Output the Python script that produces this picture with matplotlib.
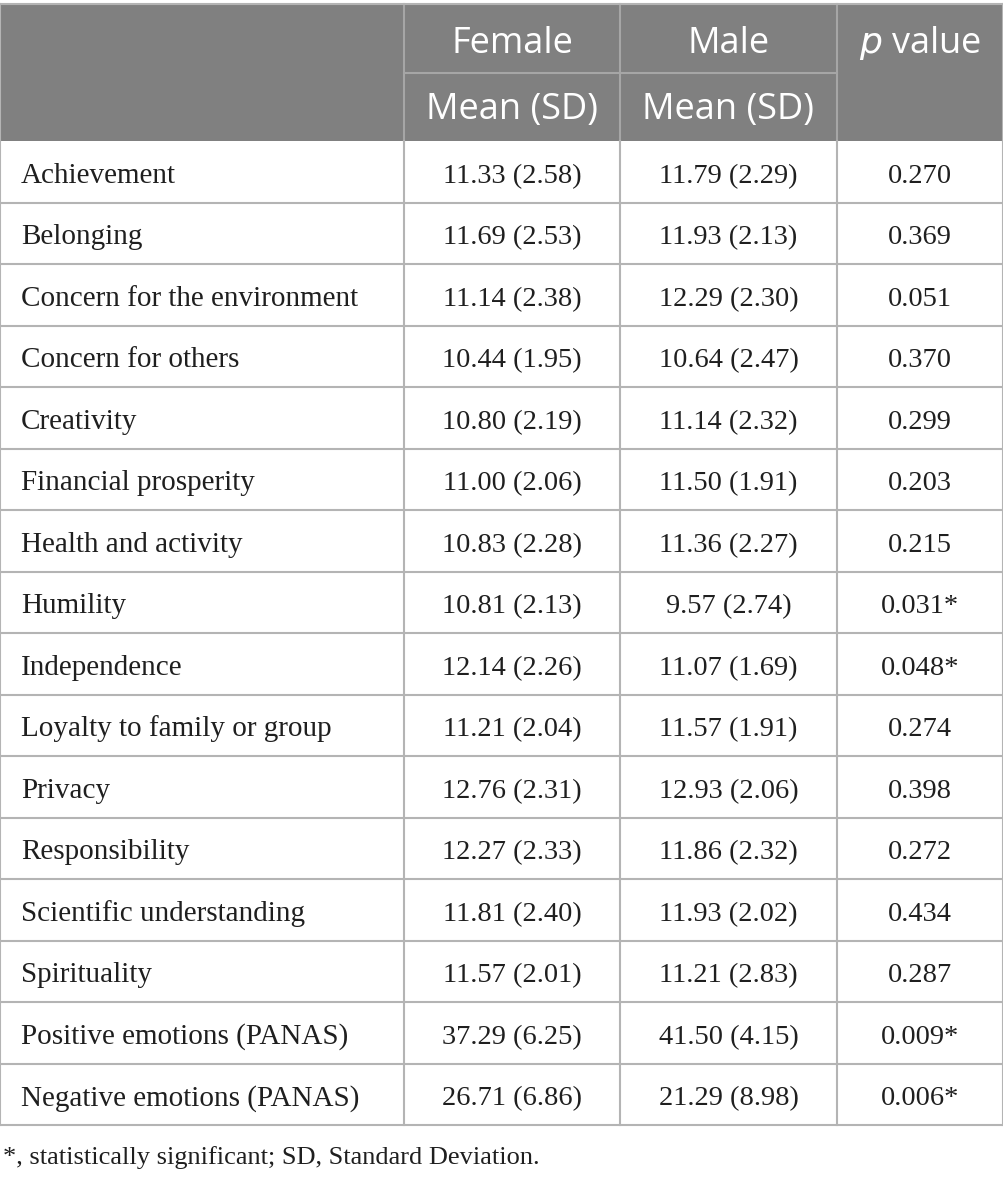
import matplotlib
matplotlib.use("Agg")
import matplotlib.pyplot as plt
from matplotlib.patches import Rectangle

# table content
labels = ["Achievement", "Belonging", "Concern for the environment",
          "Concern for others", "Creativity", "Financial prosperity",
          "Health and activity", "Humility", "Independence",
          "Loyalty to family or group", "Privacy", "Responsibility",
          "Scientific understanding", "Spirituality",
          "Positive emotions (PANAS)", "Negative emotions (PANAS)"]
female = ["11.33 (2.58)", "11.69 (2.53)", "11.14 (2.38)", "10.44 (1.95)",
          "10.80 (2.19)", "11.00 (2.06)", "10.83 (2.28)", "10.81 (2.13)",
          "12.14 (2.26)", "11.21 (2.04)", "12.76 (2.31)", "12.27 (2.33)",
          "11.81 (2.40)", "11.57 (2.01)", "37.29 (6.25)", "26.71 (6.86)"]
male = ["11.79 (2.29)", "11.93 (2.13)", "12.29 (2.30)", "10.64 (2.47)",
        "11.14 (2.32)", "11.50 (1.91)", "11.36 (2.27)", "9.57 (2.74)",
        "11.07 (1.69)", "11.57 (1.91)", "12.93 (2.06)", "11.86 (2.32)",
        "11.93 (2.02)", "11.21 (2.83)", "41.50 (4.15)", "21.29 (8.98)"]
pvals = ["0.270", "0.369", "0.051", "0.370", "0.299", "0.203", "0.215",
         "0.031*", "0.048*", "0.274", "0.398", "0.272", "0.434", "0.287",
         "0.009*", "0.006*"]
groups = ["Female", "Male"]
footnote = "*, statistically significant; SD, Standard Deviation."

W, H = 1004, 1180
fig = plt.figure(figsize=(W / 100, H / 100), dpi=100)
ax = fig.add_axes([0, 0, 1, 1])
ax.set_xlim(0, W)
ax.set_ylim(H, 0)
ax.axis("off")

cols = [0, 404, 620, 837, 1003]
top, mid, head_bot = 4, 72.5, 141
row_h = 61.5
line_c = "#b4b4b4"
head_c = "#808080"
txt_c = "#1f1f1f"
serif = "Liberation Serif"
sans = "Open Sans"

# header block
ax.add_patch(Rectangle((0, top), W, head_bot - top, color=head_c, lw=0))
ax.plot([cols[1], cols[3]], [mid, mid], color="#a6a6a6", lw=1.5)
for x in cols[1:4]:
    ax.plot([x, x], [top, head_bot], color="#a6a6a6", lw=1.5)

for i, g in enumerate(groups):
    cx = (cols[i + 1] + cols[i + 2]) / 2
    ax.text(cx, 53, g, ha="center", va="baseline", color="white",
            family=sans, fontsize=26)
    ax.text(cx, 119, "Mean (SD)", ha="center", va="baseline", color="white",
            family=sans, fontsize=26)
pcx = (cols[3] + cols[4]) / 2
ax.text(pcx, 53, r"$\mathit{p}$ value", ha="center", va="baseline",
        color="white", family=sans, fontsize=26)

# body rows
n = len(labels)
bottom = head_bot + n * row_h
for i in range(n):
    yb = head_bot + (i + 0.5) * row_h + 11
    ax.text(21, yb, labels[i], ha="left", va="baseline", family=serif,
            fontsize=21, color=txt_c)
    for j, vals in enumerate([female, male, pvals]):
        cx = (cols[j + 1] + cols[j + 2]) / 2
        ax.text(cx, yb, vals[i], ha="center", va="baseline", family=serif,
                fontsize=20.5, color=txt_c)
    ax.plot([0, W], [head_bot + (i + 1) * row_h] * 2, color=line_c, lw=1.5)

for x in cols:
    ax.plot([x, x], [head_bot, bottom], color=line_c, lw=1.5)
ax.plot([0, W], [top, top], color=line_c, lw=1.5)
ax.plot([0, 0], [top, head_bot], color=line_c, lw=1.5)
ax.plot([cols[-1], cols[-1]], [top, head_bot], color=line_c, lw=1.5)

ax.text(3, 1164, footnote, ha="left", va="baseline", family=serif,
        fontsize=19, color=txt_c)

fig.savefig("out.png", dpi=100)
